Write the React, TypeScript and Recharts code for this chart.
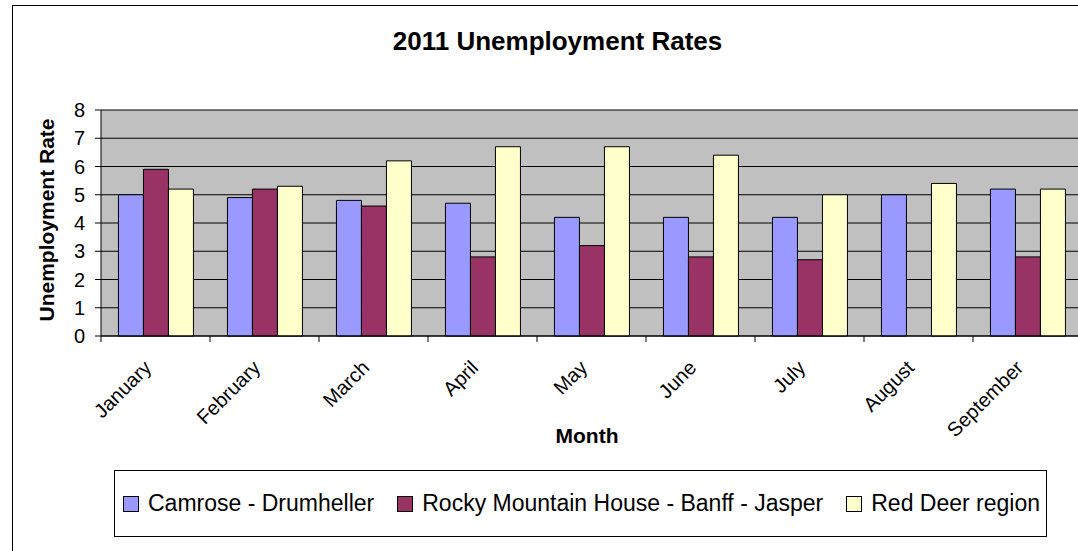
import React from "react";
import { BarChart, Bar, XAxis, YAxis, CartesianGrid } from "recharts";

const months = [
  "January",
  "February",
  "March",
  "April",
  "May",
  "June",
  "July",
  "August",
  "September",
];
const camrose = [5.0, 4.9, 4.8, 4.7, 4.2, 4.2, 4.2, 5.0, 5.2];
const rockyMountain = [5.9, 5.2, 4.6, 2.8, 3.2, 2.8, 2.7, null, 2.8];
const redDeer = [5.2, 5.3, 6.2, 6.7, 6.7, 6.4, 5.0, 5.4, 5.2];
const yTicks = [0, 1, 2, 3, 4, 5, 6, 7, 8];

const seriesNames = {
  camrose: "Camrose - Drumheller",
  rocky: "Rocky Mountain House - Banff - Jasper",
  redDeer: "Red Deer region",
};

const colors = {
  camrose: "#9999FF",
  rocky: "#993366",
  redDeer: "#FFFFCC",
};

const FONT = '"Liberation Sans", Arial, sans-serif';

// chart geometry
const CHART_W = 1090;
const CHART_H = 551;
const Y_AXIS_W = 101;
const MARGIN = { top: 110, right: 8, bottom: 175, left: 0 };
const X_AXIS_H = 40;
const BAND = (CHART_W - MARGIN.right - MARGIN.left - Y_AXIS_W) / months.length;

const data = months.map((m, i) => ({
  month: m,
  camrose: camrose[i],
  rocky: rockyMountain[i],
  redDeer: redDeer[i],
}));

// month labels, plus tick marks sitting on the category boundaries
const MonthTick = (props: any) => {
  const { x, y, payload, index } = props;
  const half = BAND / 2;
  const tx = x - 3;
  const ty = y + 33;
  return (
    <g>
      <line x1={x - half} x2={x - half} y1={y} y2={y + 6} stroke="#000" />
      {index === months.length - 1 && (
        <line x1={x + half} x2={x + half} y1={y} y2={y + 6} stroke="#000" />
      )}
      <text
        x={tx}
        y={ty}
        transform={`rotate(-45, ${tx}, ${ty})`}
        textAnchor="end"
        fontFamily={FONT}
        fontSize={20}
        fill="#000"
      >
        {payload.value}
      </text>
    </g>
  );
};

const LegendItem = ({ color, label }: { color: string; label: string }) => (
  <div style={{ display: "flex", alignItems: "center" }}>
    <div
      style={{
        width: 14,
        height: 14,
        background: color,
        border: "1px solid #000",
        marginRight: 9,
      }}
    />
    <span>{label}</span>
  </div>
);

export default function App() {
  return (
    <div
      style={{
        position: "absolute",
        left: 0,
        top: 0,
        width: 1078,
        height: 551,
        overflow: "hidden",
        background: "#fff",
        fontFamily: FONT,
      }}
    >
      {/* outer chart border */}
      <div
        style={{
          position: "absolute",
          left: 12,
          top: 5,
          width: 1200,
          height: 700,
          border: "1px solid #000",
        }}
      />
      <div
        style={{
          position: "absolute",
          left: 0,
          top: 26,
          width: 1115,
          textAlign: "center",
          fontSize: 26,
          fontWeight: "bold",
          lineHeight: "30px",
        }}
      >
        2011 Unemployment Rates
      </div>

      <div style={{ position: "absolute", left: 0, top: 0 }}>
        <BarChart
          width={CHART_W}
          height={CHART_H}
          data={data}
          margin={MARGIN}
          barCategoryGap="16%"
          barGap={0}
        >
          <CartesianGrid
            vertical={false}
            fill="#C0C0C0"
            stroke="#000"
            fillOpacity={1}
          />
          <XAxis
            dataKey="month"
            height={X_AXIS_H}
            interval={0}
            tickLine={false}
            tickSize={0}
            tickMargin={0}
            axisLine={{ stroke: "#000" }}
            tick={<MonthTick />}
            label={(p: any) => (
              <text
                x={587}
                y={443}
                textAnchor="middle"
                fontFamily={FONT}
                fontSize={21}
                fontWeight="bold"
                fill="#000"
              >
                Month
              </text>
            )}
          />
          <YAxis
            width={Y_AXIS_W}
            domain={[0, 8]}
            ticks={yTicks}
            interval={0}
            tickSize={6}
            tickMargin={10}
            axisLine={{ stroke: "#000" }}
            tickLine={{ stroke: "#000" }}
            tick={{ fontFamily: FONT, fontSize: 20, fill: "#000" }}
            label={(p: any) => {
              const vb = p.viewBox || {};
              const cy = (vb.y ?? 110) + (vb.height ?? 226) / 2 - 3;
              return (
                <text
                  x={54}
                  y={cy}
                  transform={`rotate(-90, 54, ${cy})`}
                  textAnchor="middle"
                  fontFamily={FONT}
                  fontSize={21}
                  fontWeight="bold"
                  fill="#000"
                >
                  Unemployment Rate
                </text>
              );
            }}
          />
          <Bar
            dataKey="camrose"
            name={seriesNames.camrose}
            fill={colors.camrose}
            stroke="#000"
            strokeWidth={1}
            isAnimationActive={false}
          />
          <Bar
            dataKey="rocky"
            name={seriesNames.rocky}
            fill={colors.rocky}
            stroke="#000"
            strokeWidth={1}
            isAnimationActive={false}
          />
          <Bar
            dataKey="redDeer"
            name={seriesNames.redDeer}
            fill={colors.redDeer}
            stroke="#000"
            strokeWidth={1}
            isAnimationActive={false}
          />
        </BarChart>
      </div>

      {/* legend box */}
      <div
        style={{
          position: "absolute",
          left: 114,
          top: 470,
          width: 933,
          height: 67,
          border: "1px solid #000",
          display: "flex",
          alignItems: "center",
          justifyContent: "space-between",
          padding: "0 6px 0 8px",
          boxSizing: "border-box",
          fontSize: 23,
          color: "#000",
        }}
      >
        <LegendItem color={colors.camrose} label={seriesNames.camrose} />
        <LegendItem color={colors.rocky} label={seriesNames.rocky} />
        <LegendItem color={colors.redDeer} label={seriesNames.redDeer} />
      </div>
    </div>
  );
}
